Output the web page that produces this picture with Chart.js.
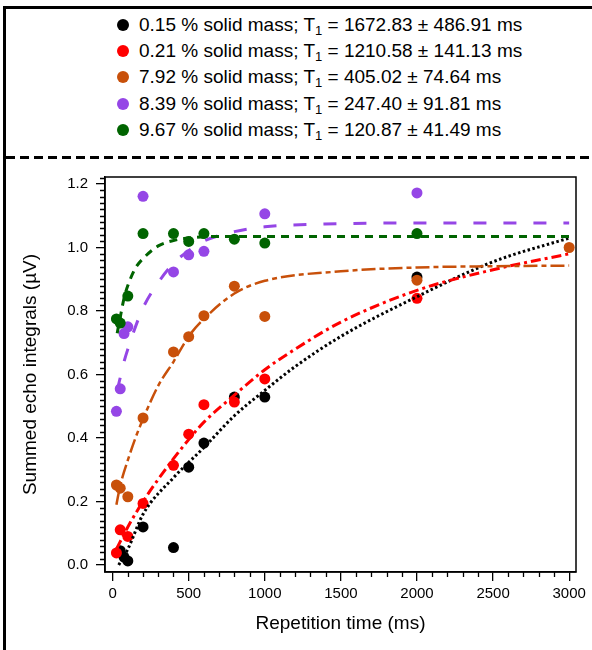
<!DOCTYPE html>
<html><head><meta charset="utf-8">
<script src="https://cdn.jsdelivr.net/npm/chart.js@4.4.1/dist/chart.umd.min.js"></script>
<style>
html,body{margin:0;padding:0;background:#fff;}
#wrap{position:relative;width:592px;height:650px;overflow:hidden;font-family:"Liberation Sans",Arial,sans-serif;color:#000;}
#topline{position:absolute;left:3px;top:6px;width:589px;height:3px;background:#000;}
#leftline{position:absolute;left:3px;top:6px;width:3px;height:644px;background:#000;}
#dash{position:absolute;left:6px;top:156px;width:586px;height:3px;background:repeating-linear-gradient(to right,#000 0 9px,transparent 9px 14px);}
.item{position:absolute;left:117px;height:26px;font-size:19px;line-height:26px;white-space:nowrap;}
.dot{display:inline-block;width:12px;height:12px;border-radius:50%;vertical-align:0px;margin-right:10px;}
.item sub{font-size:13px;vertical-align:-4px;line-height:0;}
#chartbox{position:absolute;left:0;top:160px;width:592px;height:490px;}
</style></head>
<body>
<div id="wrap">
  <div id="topline"></div>
  <div id="leftline"></div>
  <div id="legend"></div>
  <div id="dash"></div>
  <div id="chartbox"><canvas id="c"></canvas></div>
</div>
<script>
// ---- legend text ----
const seriesNames = ['0.15 % solid mass','0.21 % solid mass','7.92 % solid mass','8.39 % solid mass','9.67 % solid mass'];
const t1Texts = ['1672.83 ± 486.91','1210.58 ± 141.13','405.02 ± 74.64','247.40 ± 91.81','120.87 ± 41.49'];
const colors = ['#000000','#ff0000','#c8500a','#9546e6','#006400'];

// ---- axis ticks ----
const xTicks = [0,500,1000,1500,2000,2500,3000];
const xTickLabels = ['0','500','1000','1500','2000','2500','3000'];
const yTicks = [0,0.2,0.4,0.6,0.8,1.0,1.2];
const yTickLabels = ['0.0','0.2','0.4','0.6','0.8','1.0','1.2'];

// ---- measured points ----
const tBlack  = [50,75,100,200,400,500,600,800,1000,2000];
const vBlack  = [0.045,0.025,0.013,0.12,0.055,0.308,0.384,0.529,0.529,0.907];
const tRed    = [25,50,100,200,400,500,600,800,1000,2000];
const vRed    = [0.038,0.111,0.09,0.194,0.314,0.412,0.505,0.513,0.586,0.84];
const tOrange = [25,50,100,200,400,500,600,800,1000,2000,3000];
const vOrange = [0.252,0.242,0.215,0.463,0.671,0.719,0.785,0.878,0.783,0.897,1.0];
const tPurple = [25,50,75,100,200,400,500,600,1000,2000];
const vPurple = [0.484,0.555,0.729,0.75,1.161,0.923,0.977,0.988,1.106,1.172];
const tGreen  = [25,50,100,200,400,500,600,800,1000,2000];
const vGreen  = [0.775,0.762,0.847,1.044,1.044,1.019,1.044,1.026,1.014,1.044];

// ---- fitted curves ----
const fBlackT  = [40,100,200,400,600,800,1000,1200,1500,2000,2500,3000];
const fBlackV  = [0.0,0.05,0.16,0.275,0.37,0.47,0.55,0.625,0.72,0.845,0.955,1.03];
const fRedT    = [25,100,200,300,400,500,600,800,1000,1200,1500,2000,2500,3000];
const fRedV    = [0.05,0.12,0.2,0.27,0.335,0.395,0.45,0.535,0.615,0.68,0.765,0.865,0.93,0.98];
const fOrangeT = [25,50,100,150,200,300,400,500,600,800,1000,1500,2000,2500,3000];
const fOrangeV = [0.19,0.25,0.33,0.40,0.46,0.565,0.64,0.72,0.775,0.855,0.895,0.925,0.937,0.941,0.943];
const fPurpleT = [30,50,75,100,150,200,300,400,500,600,800,1000,1500,2000,3000];
const fPurpleV = [0.55,0.59,0.64,0.68,0.75,0.81,0.89,0.95,0.99,1.02,1.05,1.065,1.075,1.077,1.077];
const fGreenT  = [30,50,75,100,150,200,300,400,500,700,1000,2000,3000];
const fGreenV  = [0.73,0.78,0.84,0.88,0.935,0.965,1.005,1.022,1.03,1.035,1.035,1.035,1.035];

// legend
const leg = document.getElementById('legend');
const legendCenters = [25,51,77,104,130];
seriesNames.forEach((n,i)=>{
  const d=document.createElement('div');
  d.className='item';
  d.style.top=(legendCenters[i]-13)+'px';
  d.innerHTML='<span class="dot" style="background:'+colors[i]+'"></span>'+n+'; T<sub>1</sub> = '+t1Texts[i]+' ms';
  leg.appendChild(d);
});

const pts=(t,v)=>t.map((x,i)=>({x:x,y:v[i]}));
const scatterSet=(t,v,c,o)=>({type:'scatter',data:pts(t,v),backgroundColor:c,borderWidth:0,pointRadius:5.5,pointHoverRadius:5.5,order:o});
const fitSet=(t,v,c,dash,w,o)=>({type:'line',data:pts(t,v),borderColor:c,borderWidth:w,borderDash:dash,pointRadius:0,fill:false,cubicInterpolationMode:'monotone',order:o,borderCapStyle:'butt'});

const frame={
  id:'frame',
  afterDraw(chart){
    const {ctx,chartArea:a,scales:{x,y}}=chart;
    ctx.save();
    ctx.strokeStyle='#000';ctx.lineWidth=1.3;
    ctx.beginPath();
    for(let v=100;v<=3000;v+=100){ if(v%500===0) continue; const p=Math.round(x.getPixelForValue(v))+0.5; ctx.moveTo(p,a.bottom); ctx.lineTo(p,a.bottom+5); }
    for(let i=1;i<=61;i++){ if(i%10===0) continue; const p=Math.round(y.getPixelForValue(i*0.02))+0.5; if(p<a.top) continue; ctx.moveTo(a.left-5,p); ctx.lineTo(a.left,p); }
    ctx.stroke();
    ctx.lineWidth=1.5;
    ctx.strokeRect(a.left,a.top,a.right-a.left,a.bottom-a.top);
    ctx.restore();
  }
};

const font='"Liberation Sans", Arial, sans-serif';
new Chart(document.getElementById('c'),{
  type:'scatter',
  data:{datasets:[
    fitSet(fGreenT,fGreenV,colors[4],[8,6],3,1),
    fitSet(fPurpleT,fPurpleV,colors[3],[13,17],3,2),
    fitSet(fOrangeT,fOrangeV,colors[2],[14,4,5,4],2.5,3),
    fitSet(fRedT,fRedV,colors[1],[10,4,3,4],3,4),
    fitSet(fBlackT,fBlackV,colors[0],[2.5,2.5],3,5),
    scatterSet(tGreen,vGreen,colors[4],6),
    scatterSet(tPurple,vPurple,colors[3],7),
    scatterSet(tOrange,vOrange,colors[2],8),
    scatterSet(tRed,vRed,colors[1],9),
    scatterSet(tBlack,vBlack,colors[0],10)
  ]},
  options:{
    responsive:true,maintainAspectRatio:false,animation:false,
    layout:{padding:{left:0,top:12,right:16,bottom:0}},
    plugins:{legend:{display:false},tooltip:{enabled:false}},
    scales:{
      x:{type:'linear',min:-50,max:3045,
        afterBuildTicks:s=>{s.ticks=xTicks.map(v=>({value:v}));},
        afterFit:s=>{s.height=78;},
        ticks:{color:'#000',font:{family:font,size:15},padding:4,maxRotation:0,autoSkip:false,
          callback:(v)=>xTickLabels[xTicks.indexOf(v)]},
        grid:{drawOnChartArea:false,drawTicks:true,tickLength:9,color:'#000',lineWidth:1.3},
        border:{display:true,color:'#000',width:1.5},
        title:{display:true,text:'Repetition time (ms)',color:'#000',font:{family:font,size:19},padding:{top:0,bottom:15}}
      },
      y:{type:'linear',min:-0.022,max:1.222,
        afterBuildTicks:s=>{s.ticks=yTicks.map(v=>({value:v}));},
        afterFit:s=>{s.width=105;},
        ticks:{color:'#000',font:{family:font,size:15},padding:8,autoSkip:false,
          callback:(v)=>yTickLabels[yTicks.indexOf(v)]},
        grid:{drawOnChartArea:false,drawTicks:true,tickLength:9,color:'#000',lineWidth:1.3},
        border:{display:true,color:'#000',width:1.5},
        title:{display:true,text:'Summed echo integrals (µV)',color:'#000',font:{family:font,size:19},padding:{top:19,bottom:0}}
      }
    }
  },
  plugins:[frame]
});
</script>
</body></html>
